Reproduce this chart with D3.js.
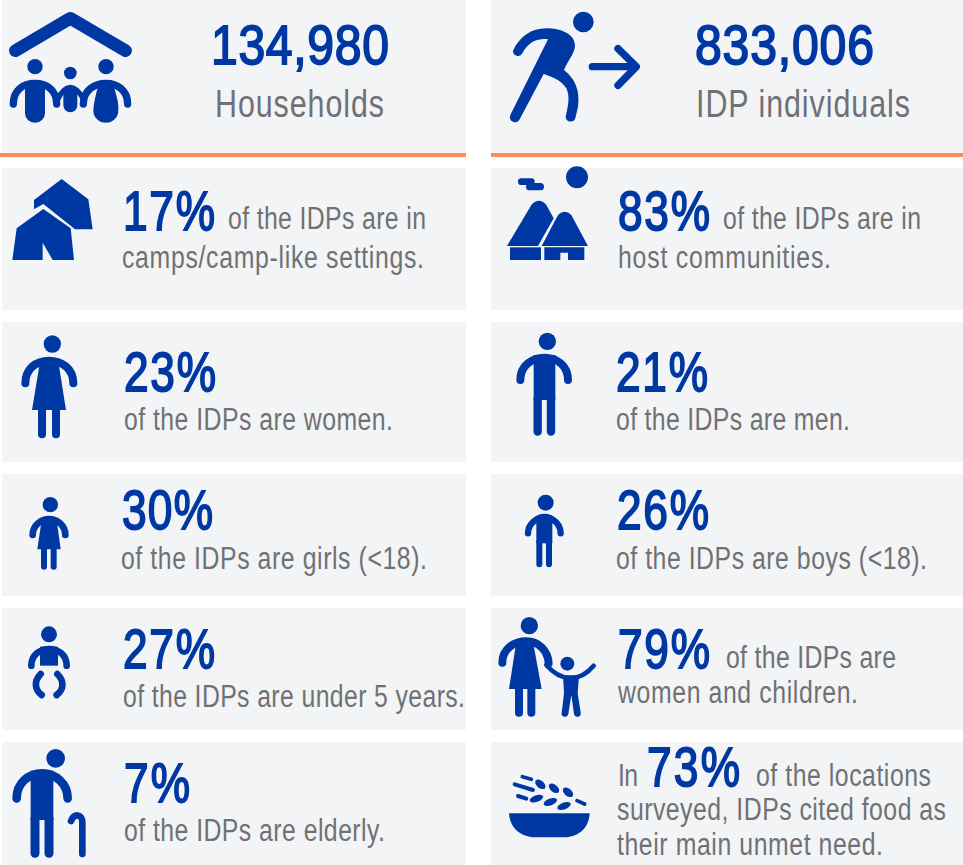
<!DOCTYPE html>
<html>
<head>
<meta charset="utf-8">
<script src="https://cdn.jsdelivr.net/npm/d3@7"></script>
<style>
  html, body { margin: 0; padding: 0; background: #fff; }
  svg { display: block; }
  text { font-family: "Liberation Sans", Arial, sans-serif; }
</style>
</head>
<body>
<div id="chart"></div>
<script>
// values
const headlineValues = [134980, 833006];
const headlineLabels = ["Households", "IDP individuals"];
const shareKeys = ["camps", "host", "women", "men", "girls", "boys", "under5", "womenChildren", "elderly", "food"];
const sharePercents = [17, 83, 23, 21, 30, 26, 27, 79, 7, 73];
const shareLines = [
  ["of the IDPs are in", "camps/camp-like settings."],
  ["of the IDPs are in", "host communities."],
  ["of the IDPs are women."],
  ["of the IDPs are men."],
  ["of the IDPs are girls (<18)."],
  ["of the IDPs are boys (<18)."],
  ["of the IDPs are under 5 years."],
  ["of the IDPs are", "women and children."],
  ["of the IDPs are elderly."],
  ["of the locations", "surveyed, IDPs cited food as", "their main unmet need."]
];
const foodPrefix = "In";

const width = 963;
const height = 865;
const blue = "#0038a3";
const grey = "#6f7174";
const panelFill = "#f3f4f6";
const orange = "#ff8b59";
const condense = 0.8; // horizontal squeeze of the captions
const condenseHead = 0.86; // headline numbers
const condensePct = 0.79; // percentages, the % sign is wide

// panel bands
const rows = ["head", "r1", "r2", "r3", "r4", "r5"];
const rowTop = d3.scaleOrdinal().domain(rows).range([0, 168, 322, 474, 608, 742]);
const rowBottom = d3.scaleOrdinal().domain(rows).range([155, 310, 462, 596, 730, 865]);
const colLeft = d3.scaleOrdinal().domain([0, 1]).range([2, 491]);
const colRight = d3.scaleOrdinal().domain([0, 1]).range([466, 963]);

// text placement: x start, x end, baseline
const headlinePos = [
  { num: [211, 389, 64], label: [215, 384, 117] },
  { num: [695, 874, 64], label: [696, 910, 117] }
];
const sharePos = {
  camps: { pct: [123, 215, 230], lines: [[228, 426, 229], [122, 424, 268]] },
  host: { pct: [618, 710, 230], lines: [[723, 921, 229], [618, 831, 268]] },
  women: { pct: [124, 216, 391], lines: [[124, 393, 430]] },
  men: { pct: [616, 708, 391], lines: [[616, 850, 430]] },
  girls: { pct: [122, 213, 529], lines: [[121, 427, 569]] },
  boys: { pct: [617, 709, 529], lines: [[616, 927, 569]] },
  under5: { pct: [123, 215, 668], lines: [[123, 465, 707]] },
  womenChildren: { pct: [618, 710, 668], lines: [[726, 896, 668], [618, 858, 703]] },
  elderly: { pct: [124, 190, 802], lines: [[124, 385, 841]] },
  food: { pct: [647, 740, 786], prefix: [618, 638, 786], lines: [[756, 931, 786], [617, 946, 820], [617, 883, 855]] }
};

// pictograms, drawn at 3x around a crop origin
const icons = [
  { at: [0, 0],
    dots: [[105, 200, 23], [211, 219, 19], [318, 200, 23]],
    fill: ["M75,255H135V340A30,28 0 0 1 75,340Z",
           "M295,255H340Q358,310 355,332A37,36 0 0 1 280,332Q280,310 295,255Z",
           "M190,265H232V315A21,22 0 0 1 190,315Z"],
    stroke: [[38, "M46,152L211,55L377,152"],
             [22, "M40,312C40,270 70,250 105,250C140,250 170,270 170,312"],
             [22, "M250,312C250,270 285,250 318,250C350,250 383,270 383,312"],
             [16, "M172,300Q190,262 211,262Q232,262 252,300"]] },
  { at: [483, 0],
    dots: [[301, 66, 31]],
    fill: ["M190,85C230,85 278,100 276,140C272,165 255,180 243,210C275,235 292,270 285,320L277,355A15,15 0 0 1 248,350C255,320 262,290 250,265C235,240 205,230 182,222L110,358A15,15 0 0 1 82,345L195,118C170,115 140,120 118,160A15,15 0 0 1 90,152C110,110 145,85 190,85Z"],
    stroke: [[22, "M328,200H458"], [22, "M405,146L460,200L405,256"]] },
  { at: [0, 0],
    fill: ["M102,600L185,537L265,598L278,688H225L130,612L102,628Z",
           "M50,685L130,627L212,685L222,780H158L128,728V780H37Z"] },
  { at: [483, 0],
    dots: [[282, 532, 33]],
    fill: ["M72,738L145,615Q168,590 190,615L212,655L165,738Z",
           "M176,738L225,645Q245,625 265,645L315,738Z",
           "M81,742H174V780H81Z",
           "M184,742H304V780H255V758H232V780H184Z"],
    stroke: [[20, "M115,545H145"], [22, "M140,560H172"]] },
  { at: [0, 320],
    dots: [[157, 72, 26]],
    fill: ["M120,125H175L198,270H96Z"],
    stroke: [[24, "M76,190C76,145 110,122 147,122C185,122 220,145 220,190"],
             [24, "M126,270V343"], [24, "M168,270V343"]] },
  { at: [483, 320],
    dots: [[193, 64, 26]],
    fill: ["M152,105H217V240H152Z"],
    stroke: [[24, "M112,180C112,135 150,113 184,113C220,113 255,135 255,180"],
             [25, "M164,235V335"], [25, "M204,235V335"]] },
  { at: [0, 320],
    dots: [[151, 554, 23]],
    fill: ["M125,600H170L182,688H112Z"],
    stroke: [[20, "M98,645C98,615 125,597 147,597C170,597 196,615 196,645"],
             [18, "M132,685V740"], [18, "M161,685V740"]] },
  { at: [483, 320],
    dots: [[188, 548, 24]],
    fill: ["M160,588H208V670H160Z"],
    stroke: [[19, "M135,640C135,610 165,591 184,591C205,591 233,610 233,640"],
             [18, "M169,665V733"], [18, "M198,665V733"]] },
  { at: [0, 600],
    dots: [[147, 103, 24]],
    fill: ["M120,140H174V197H120Z"],
    stroke: [[20, "M94,197C94,165 120,147 147,147C175,147 200,165 200,197"],
             [20, "M122,222C100,245 105,270 125,285"],
             [20, "M172,222C195,245 190,270 170,285"]] },
  { at: [483, 600],
    dots: [[139, 77, 26], [253, 191, 21]],
    fill: ["M100,125H150L176,267H78Z",
           "M240,228H288L284,280L293,338A10,10 0 0 1 273,342L265,285L256,342A10,10 0 0 1 236,338L243,280Z"],
    stroke: [[24, "M58,188C58,145 95,124 130,124C165,124 195,150 197,190"],
             [24, "M108,265V338"], [24, "M145,265V338"],
             [14, "M190,195Q225,235 262,233Q300,235 332,197"]] },
  { at: [0, 600],
    dots: [[167, 475, 28]],
    fill: ["M92,512H160V660H92Z"],
    stroke: [[26, "M50,595C50,550 85,520 127,520C165,520 203,550 203,595"],
             [27, "M105,655V760"], [27, "M147,655V760"],
             [20, "M213,663C222,640 247,640 247,668V762"]] },
  { at: [483, 600],
    fill: ["M78,640H320C318,685 285,712 245,712H155C115,712 80,685 78,640Z"],
    ovals: [[172, 553, 18, 11, 40], [213, 565, 18, 11, 40], [255, 577, 18, 11, 40],
            [160, 596, 21, 10, -20], [202, 606, 21, 10, -20], [243, 618, 21, 10, -20]],
    stroke: [[11, "M118,530L145,538"], [12, "M95,553L150,570"],
             [12, "M105,588L130,596"], [11, "M282,602L305,612"]] }
];

const svg = d3.select("#chart")
  .append("svg")
  .attr("width", width)
  .attr("height", height);

// panels
const panels = rows.flatMap(r => [0, 1].map(c => ({ r, c })));
svg.selectAll("rect.panel")
  .data(panels)
  .enter()
  .append("rect")
  .attr("class", "panel")
  .attr("x", d => colLeft(d.c))
  .attr("y", d => rowTop(d.r))
  .attr("width", d => colRight(d.c) - colLeft(d.c))
  .attr("height", d => rowBottom(d.r) - rowTop(d.r))
  .attr("fill", panelFill);

// orange rules under the headline panels
svg.selectAll("rect.rule")
  .data([[0, 466], [491, 963]])
  .enter()
  .append("rect")
  .attr("class", "rule")
  .attr("x", d => d[0])
  .attr("y", 153)
  .attr("width", d => d[1] - d[0])
  .attr("height", 4)
  .attr("fill", orange);

// icons
const iconGroups = svg.selectAll("g.icon")
  .data(icons)
  .enter()
  .append("g")
  .attr("class", "icon")
  .attr("transform", d => `translate(${d.at[0]},${d.at[1]}) scale(${1 / 3})`);

iconGroups.selectAll("circle")
  .data(d => d.dots || [])
  .enter()
  .append("circle")
  .attr("cx", d => d[0])
  .attr("cy", d => d[1])
  .attr("r", d => d[2])
  .attr("fill", blue);

iconGroups.selectAll("path.solid")
  .data(d => d.fill || [])
  .enter()
  .append("path")
  .attr("class", "solid")
  .attr("d", d => d)
  .attr("fill", blue);

iconGroups.selectAll("path.line")
  .data(d => d.stroke || [])
  .enter()
  .append("path")
  .attr("class", "line")
  .attr("d", d => d[1])
  .attr("fill", "none")
  .attr("stroke", blue)
  .attr("stroke-width", d => d[0])
  .attr("stroke-linecap", "round")
  .attr("stroke-linejoin", "round");

iconGroups.selectAll("ellipse")
  .data(d => d.ovals || [])
  .enter()
  .append("ellipse")
  .attr("rx", d => d[2])
  .attr("ry", d => d[3])
  .attr("transform", d => `translate(${d[0]},${d[1]}) rotate(${d[4]})`)
  .attr("fill", blue);

// numbers: medium weight, squeezed and tracked to the measured extent
function addNumber(str, pos, squeeze) {
  svg.append("text")
    .attr("transform", `translate(${pos[0]},${pos[2]}) scale(${squeeze},1)`)
    .attr("textLength", (pos[1] - pos[0]) / squeeze)
    .attr("lengthAdjust", "spacing")
    .attr("font-size", 56)
    .attr("fill", blue)
    .attr("stroke", blue)
    .attr("stroke-width", 1.8)
    .text(str);
}

// captions: squeezed glyphs, tracked out to the measured extent
function addCaption(str, pos, size) {
  svg.append("text")
    .attr("transform", `translate(${pos[0]},${pos[2] - 0.5}) scale(${condense},1)`)
    .attr("textLength", (pos[1] - pos[0]) / condense)
    .attr("lengthAdjust", "spacing")
    .attr("font-size", size)
    .attr("fill", grey)
    .text(str);
}

const fmt = d3.format(",");
headlineValues.forEach((v, i) => {
  addNumber(fmt(v), headlinePos[i].num, condenseHead);
  addCaption(headlineLabels[i], headlinePos[i].label, 38);
});

shareKeys.forEach((k, i) => {
  const pos = sharePos[k];
  addNumber(sharePercents[i] + "%", pos.pct, condensePct);
  shareLines[i].forEach((line, j) => addCaption(line, pos.lines[j], 31));
  if (pos.prefix) addCaption(foodPrefix, pos.prefix, 31);
});
</script>
</body>
</html>
